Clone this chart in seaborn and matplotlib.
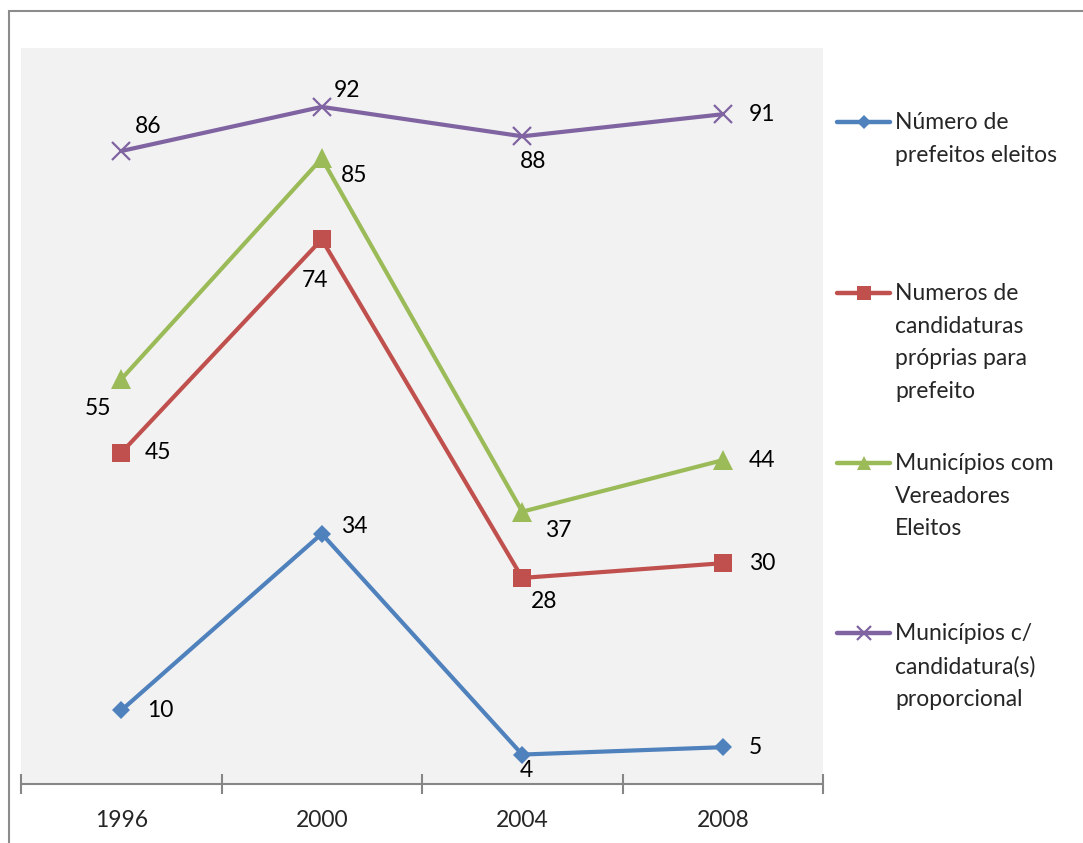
import matplotlib
matplotlib.use("Agg")
import matplotlib.pyplot as plt
from matplotlib.lines import Line2D
from matplotlib.patches import Rectangle
import seaborn as sns
import pandas as pd

years = ["1996", "2000", "2004", "2008"]
prefeitos = [10, 34, 4, 5]
candidaturas = [45, 74, 28, 30]
vereadores = [55, 85, 37, 44]
proporcional = [86, 92, 88, 91]

series_names = [
    "Número de\nprefeitos eleitos",
    "Numeros de\ncandidaturas\npróprias para\nprefeito",
    "Municípios com\nVereadores\nEleitos",
    "Municípios c/\ncandidatura(s)\nproporcional",
]
series_values = [prefeitos, candidaturas, vereadores, proporcional]
colors = ["#4F81BD", "#C0504D", "#9BBB59", "#8064A2"]
markers = ["D", "s", "^", "x"]
marker_sizes = [9, 13, 14, 13]

# label offsets (pixels) for each value label
label_offsets = [
    [(39, 0), (33, 7), (4, -16), (33, 0)],
    [(37, 0), (-7, -41), (22, -24), (39, 0)],
    [(-23, -29), (32, -17), (36, -19), (39, 0)],
    [(27, 25), (25, 16), (11, -25), (39, 0)],
]

sns.set_theme(style="white")
plt.rcParams["font.family"] = ["Lato", "DejaVu Sans"]

W, H = 1083, 843
FS = 16.5
fig = plt.figure(figsize=(W / 100, H / 100), dpi=100)

# outer chart frame
fig.patches.append(Rectangle((9 / W, -0.05), 1.2, (H - 11) / H + 0.05,
                             transform=fig.transFigure, fill=False,
                             edgecolor="#8C8C8C", linewidth=1.5, zorder=0))

left, right, top, bottom = 21, 823, 48, 784
ax = fig.add_axes([left / W, (H - bottom) / H, (right - left) / W, (bottom - top) / H])
ax.set_facecolor("#F2F2F2")

x = list(range(len(years)))
rows = []
for name, vals in zip(series_names, series_values):
    for xi, v in zip(x, vals):
        rows.append({"x": xi, "valor": v, "serie": name})
df = pd.DataFrame(rows)

for name, col, mk, ms in zip(series_names, colors, markers, marker_sizes):
    sub = df[df["serie"] == name]
    mew = 1.6 if mk == "x" else 0
    sns.lineplot(data=sub, x="x", y="valor", ax=ax, color=col, linewidth=3.0,
                 marker=mk, markersize=ms, markeredgewidth=mew,
                 markeredgecolor=col, markerfacecolor=col, legend=False,
                 zorder=3)

for vals, offs in zip(series_values, label_offsets):
    for xi, v, (dx, dy) in zip(x, vals, offs):
        ax.annotate(str(v), (xi, v), xytext=(dx, dy), textcoords="offset pixels",
                    ha="center", va="center", fontsize=FS, color="black", zorder=4)

ax.set_xlim(-0.5, len(years) - 0.5)
ax.set_ylim(0, 100)
ax.set_yticks([])
ax.set_xlabel("")
ax.set_ylabel("")
for s in ["left", "right", "top"]:
    ax.spines[s].set_visible(False)
ax.spines["bottom"].set_color("#868686")
ax.spines["bottom"].set_linewidth(1.5)

ax.set_xticks([i - 0.5 for i in range(len(years) + 1)])
ax.set_xticklabels([])
ax.set_xticks(x, minor=True)
ax.set_xticklabels(years, minor=True)
ax.tick_params(axis="x", which="major", direction="inout", length=15, width=1.5,
               color="#868686", bottom=True)
ax.tick_params(axis="x", which="minor", length=0, pad=19, labelsize=FS)

# legend on the right
legend_y = [122, 293, 463, 633]
for name, col, mk, ms, ly in zip(series_names, colors, markers, marker_sizes, legend_y):
    yf = (H - ly) / H
    mew = 1.6 if mk == "x" else 0
    fig.add_artist(Line2D([837 / W, 890 / W], [yf, yf], transform=fig.transFigure,
                          color=col, linewidth=3.2, solid_capstyle="round"))
    fig.add_artist(Line2D([863.5 / W], [yf], transform=fig.transFigure, color=col,
                          marker=mk, markersize=ms * 0.75, markeredgewidth=mew,
                          markeredgecolor=col, markerfacecolor=col))
    fig.text(895 / W, (H - ly + 10) / H, name, ha="left", va="top", fontsize=FS,
             linespacing=1.68, transform=fig.transFigure)

fig.savefig("out.png", dpi=100)
